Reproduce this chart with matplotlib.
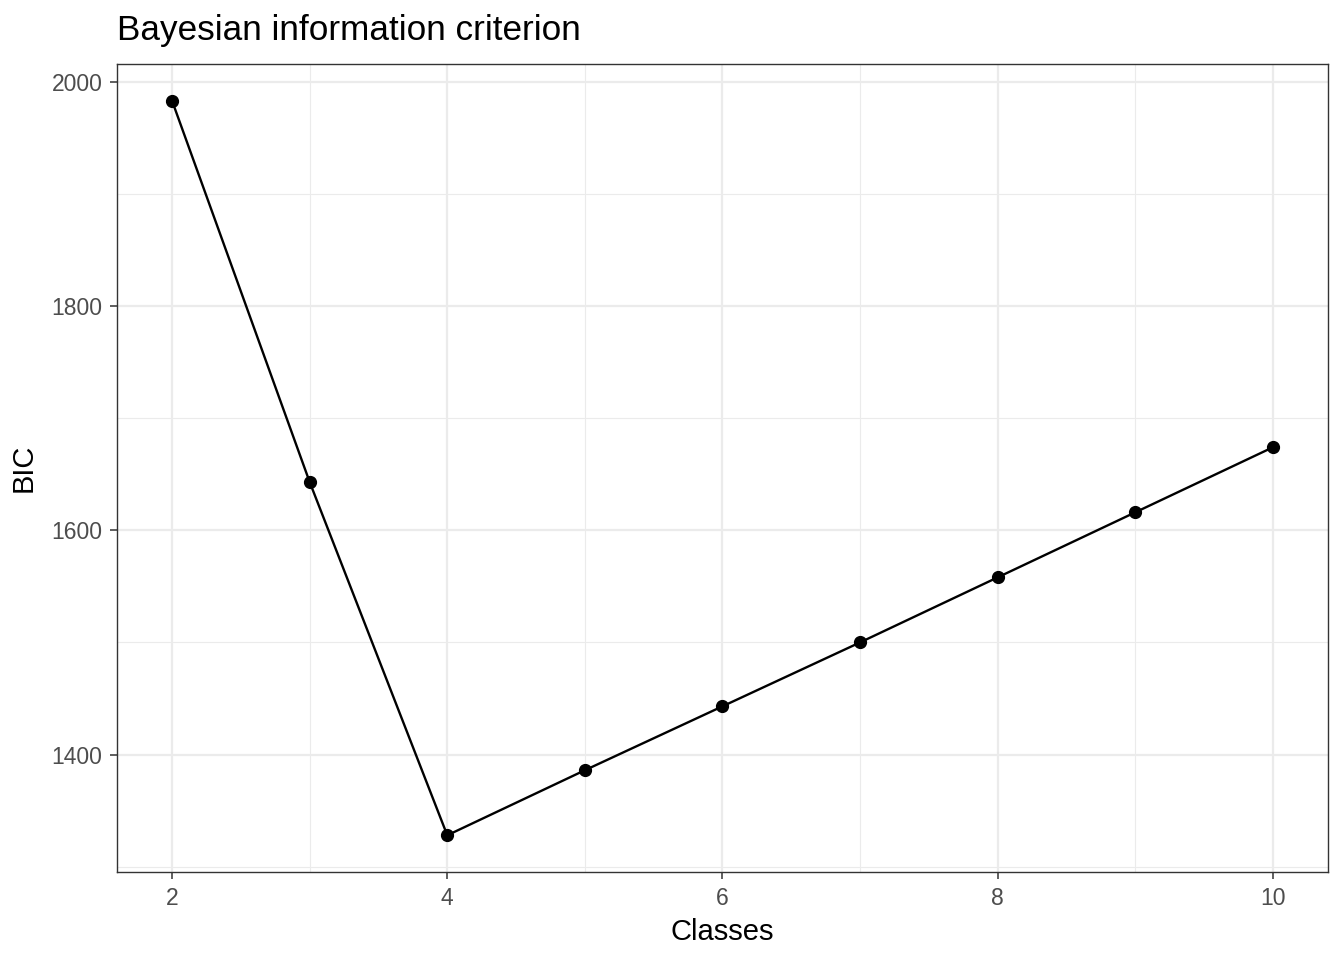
import matplotlib
matplotlib.use('Agg')
import matplotlib.pyplot as plt
from matplotlib.ticker import MultipleLocator

plt.rcParams['font.family'] = ['Liberation Sans', 'DejaVu Sans']

classes = [2, 3, 4, 5, 6, 7, 8, 9, 10]
bic = [1983, 1643, 1328, 1386, 1443, 1500, 1558, 1616, 1674]

fig = plt.figure(figsize=(13.44, 9.6), dpi=100)
ax = fig.add_axes([117/1344, 1-872/960, (1328-117)/1344, (872-64)/960])

ax.plot(classes, bic, color='black', linewidth=1.7, zorder=3)
ax.plot(classes, bic, 'o', color='black', markersize=8.5, zorder=4)

ax.set_xlim(1.6, 10.4)
ax.set_ylim(1295.25, 2015.75)

ax.xaxis.set_major_locator(MultipleLocator(2))
ax.xaxis.set_minor_locator(MultipleLocator(1))
ax.yaxis.set_major_locator(MultipleLocator(200))
ax.yaxis.set_minor_locator(MultipleLocator(100))

ax.grid(which='major', color='#EBEBEB', linewidth=1.6)
ax.grid(which='minor', color='#EBEBEB', linewidth=0.8)
ax.set_axisbelow(True)

for s in ax.spines.values():
    s.set_color('#333333')
    s.set_linewidth(1.0)

ax.tick_params(which='major', length=5, width=1.1, color='#333333',
               labelsize=16.5, labelcolor='#4D4D4D')
ax.tick_params(axis='y', pad=5.5)
ax.tick_params(axis='x', pad=5.5)
ax.tick_params(which='minor', length=0)

ax.set_xlabel('Classes', fontsize=21, labelpad=6)
ax.set_ylabel('BIC', fontsize=21, labelpad=10)
ax.set_title('Bayesian information criterion', fontsize=25.3, loc='left', pad=17)

fig.savefig('out.png', dpi=100)
